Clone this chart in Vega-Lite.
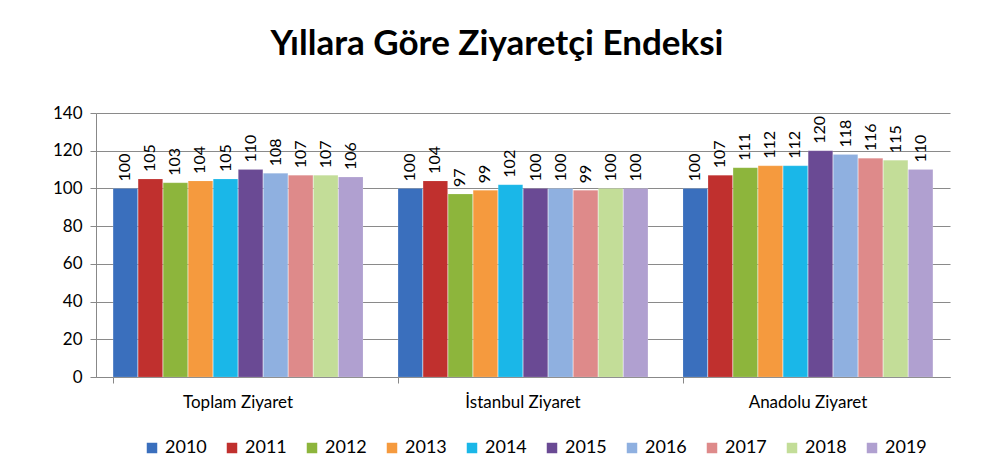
{
  "$schema": "https://vega.github.io/schema/vega-lite/v6.json",
  "width": 854,
  "height": 264,
  "autosize": {"type": "none"},
  "padding": {"left": 96, "top": 113, "right": 49, "bottom": 91},
  "background": "white",
  "title": {
    "text": "Yıllara Göre Ziyaretçi Endeksi",
    "font": "Lato",
    "fontSize": 35,
    "fontWeight": "bold",
    "color": "#000000",
    "anchor": "middle",
    "dx": -26,
    "offset": 42
  },
  "data": {
    "values": [
      {"grup": "Toplam Ziyaret", "yil": "2010", "deger": 100},
      {"grup": "Toplam Ziyaret", "yil": "2011", "deger": 105},
      {"grup": "Toplam Ziyaret", "yil": "2012", "deger": 103},
      {"grup": "Toplam Ziyaret", "yil": "2013", "deger": 104},
      {"grup": "Toplam Ziyaret", "yil": "2014", "deger": 105},
      {"grup": "Toplam Ziyaret", "yil": "2015", "deger": 110},
      {"grup": "Toplam Ziyaret", "yil": "2016", "deger": 108},
      {"grup": "Toplam Ziyaret", "yil": "2017", "deger": 107},
      {"grup": "Toplam Ziyaret", "yil": "2018", "deger": 107},
      {"grup": "Toplam Ziyaret", "yil": "2019", "deger": 106},
      {"grup": "İstanbul Ziyaret", "yil": "2010", "deger": 100},
      {"grup": "İstanbul Ziyaret", "yil": "2011", "deger": 104},
      {"grup": "İstanbul Ziyaret", "yil": "2012", "deger": 97},
      {"grup": "İstanbul Ziyaret", "yil": "2013", "deger": 99},
      {"grup": "İstanbul Ziyaret", "yil": "2014", "deger": 102},
      {"grup": "İstanbul Ziyaret", "yil": "2015", "deger": 100},
      {"grup": "İstanbul Ziyaret", "yil": "2016", "deger": 100},
      {"grup": "İstanbul Ziyaret", "yil": "2017", "deger": 99},
      {"grup": "İstanbul Ziyaret", "yil": "2018", "deger": 100},
      {"grup": "İstanbul Ziyaret", "yil": "2019", "deger": 100},
      {"grup": "Anadolu Ziyaret", "yil": "2010", "deger": 100},
      {"grup": "Anadolu Ziyaret", "yil": "2011", "deger": 107},
      {"grup": "Anadolu Ziyaret", "yil": "2012", "deger": 111},
      {"grup": "Anadolu Ziyaret", "yil": "2013", "deger": 112},
      {"grup": "Anadolu Ziyaret", "yil": "2014", "deger": 112},
      {"grup": "Anadolu Ziyaret", "yil": "2015", "deger": 120},
      {"grup": "Anadolu Ziyaret", "yil": "2016", "deger": 118},
      {"grup": "Anadolu Ziyaret", "yil": "2017", "deger": 116},
      {"grup": "Anadolu Ziyaret", "yil": "2018", "deger": 115},
      {"grup": "Anadolu Ziyaret", "yil": "2019", "deger": 110}
    ]
  },
  "encoding": {
    "x": {
      "field": "grup",
      "type": "nominal",
      "sort": ["Toplam Ziyaret", "İstanbul Ziyaret", "Anadolu Ziyaret"],
      "scale": {"paddingInner": 0.123, "paddingOuter": 0.06},
      "axis": {
        "title": null,
        "labelAngle": 0,
        "labelFont": "Lato",
        "labelFontSize": 17,
        "labelColor": "#000000",
        "labelPadding": 11,
        "bandPosition": 0,
        "tickSize": 6,
        "tickColor": "#888888",
        "domainColor": "#888888",
        "grid": false
      }
    },
    "xOffset": {"field": "yil", "type": "nominal", "scale": {"paddingInner": 0.02}},
    "y": {
      "field": "deger",
      "type": "quantitative",
      "scale": {"domain": [0, 140]},
      "axis": {
        "title": null,
        "values": [0, 20, 40, 60, 80, 100, 120, 140],
        "labelFont": "Lato",
        "labelFontSize": 17,
        "labelColor": "#000000",
        "labelPadding": 8,
        "tickSize": 6,
        "tickColor": "#888888",
        "domainColor": "#888888",
        "gridColor": "#8a8a8a",
        "gridWidth": 1.2
      }
    }
  },
  "layer": [
    {
      "mark": {"type": "bar", "stroke": "#ffffff", "strokeOpacity": 0.3, "strokeWidth": 0.5},
      "encoding": {
        "color": {
          "field": "yil",
          "type": "nominal",
          "scale": {
            "domain": ["2010", "2011", "2012", "2013", "2014", "2015", "2016", "2017", "2018", "2019"],
            "range": ["#3a6fbd", "#c0302e", "#8db53c", "#f59a3e", "#1ab7e8", "#6a4a94", "#8fb0e0", "#de8a8a", "#c3dd98", "#b0a0d0"]
          },
          "legend": {
            "title": null,
            "orient": "none",
            "legendX": 47,
            "legendY": 326,
            "direction": "horizontal",
            "symbolType": "square",
            "symbolSize": 110,
            "symbolStrokeWidth": 0,
            "labelFont": "Lato",
            "labelFontSize": 18,
            "labelColor": "#000000",
            "columnPadding": 16
          }
        }
      }
    },
    {
      "mark": {
        "type": "text",
        "angle": 270,
        "align": "left",
        "baseline": "middle",
        "dx": 7,
        "font": "Lato",
        "fontSize": 16,
        "color": "#000000"
      },
      "encoding": {
        "text": {"field": "deger", "type": "quantitative"}
      }
    }
  ],
  "config": {
    "view": {"stroke": null}
  }
}
